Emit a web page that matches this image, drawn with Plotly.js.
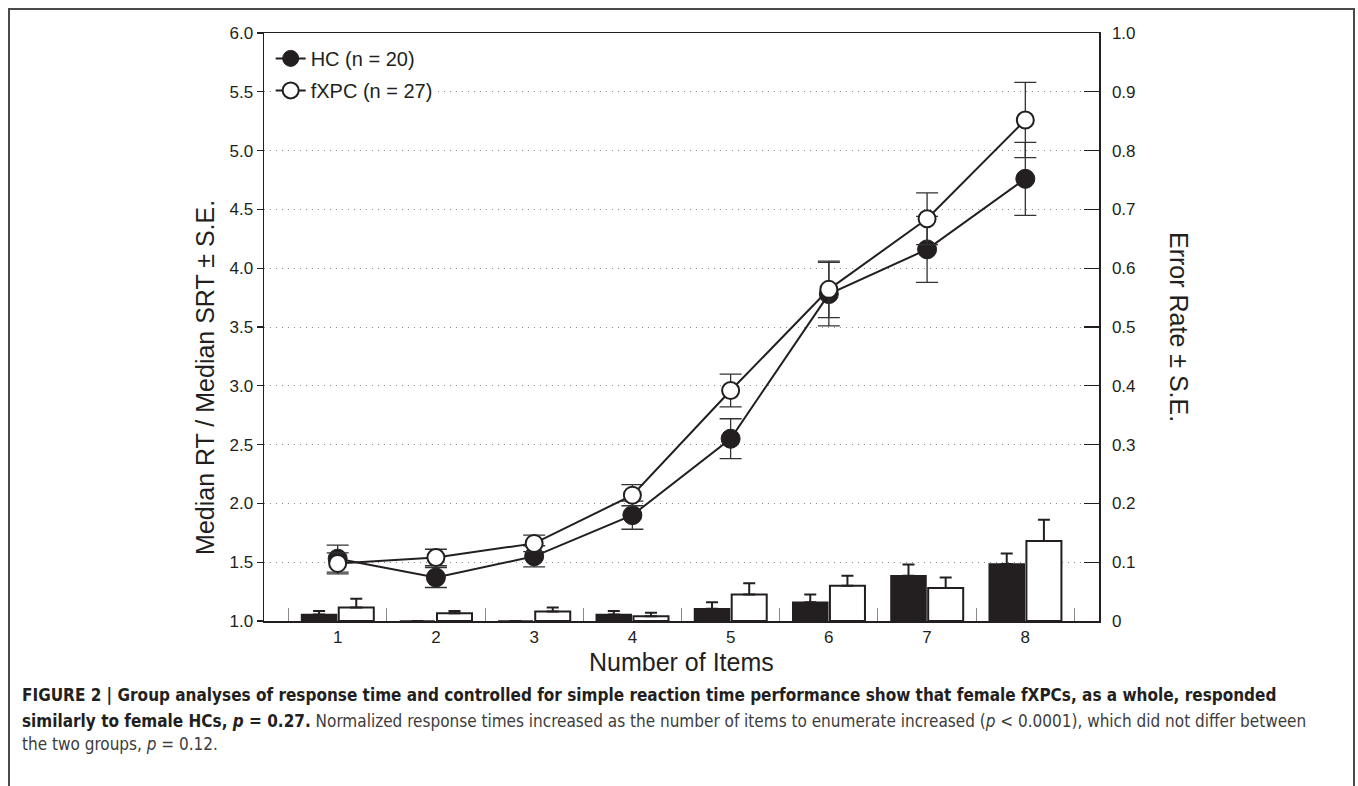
<!DOCTYPE html>
<html>
<head>
<meta charset="utf-8">
<script src="https://cdn.plot.ly/plotly-3.0.1.min.js"></script>
<style>
  html, body { margin: 0; padding: 0; background: #ffffff; }
  #chart { width: 1358px; height: 786px; }
  #frame { position: absolute; left: 8px; top: 8px; width: 1343px; height: 800px;
           border: 2px solid #4a4a4a; pointer-events: none; }
</style>
</head>
<body>
<div id="chart"></div>
<div id="frame"></div>
<script>
// ---- data ----
const items = [1, 2, 3, 4, 5, 6, 7, 8];
const hcLabel = 'HC (n = 20)';
const fxLabel = 'fXPC (n = 27)';

// Median RT / Median SRT (left axis) with S.E.
const hcRT   = [1.53, 1.37, 1.55, 1.90, 2.55, 3.78, 4.16, 4.76];
const hcRTse = [0.115, 0.085, 0.09, 0.12, 0.17, 0.27, 0.28, 0.31];
const fxRT   = [1.49, 1.54, 1.66, 2.07, 2.96, 3.82, 4.42, 5.26];
const fxRTse = [0.09, 0.07, 0.07, 0.09, 0.14, 0.24, 0.22, 0.32];

// Error rate (right axis) with S.E.
const hcErr   = [0.011, 0, 0, 0.011, 0.021, 0.032, 0.077, 0.097];
const hcErrSe = [0.006, 0, 0, 0.006, 0.011, 0.013, 0.019, 0.018];
const fxErr   = [0.023, 0.013, 0.016, 0.008, 0.045, 0.060, 0.056, 0.136];
const fxErrSe = [0.015, 0.004, 0.007, 0.006, 0.019, 0.017, 0.018, 0.036];

// tick labels
const leftTicks  = [1.0, 1.5, 2.0, 2.5, 3.0, 3.5, 4.0, 4.5, 5.0, 5.5, 6.0];
const rightTicks = [0, 0.1, 0.2, 0.3, 0.4, 0.5, 0.6, 0.7, 0.8, 0.9, 1.0];
const rightTickText = ['0', '0.1', '0.2', '0.3', '0.4', '0.5', '0.6', '0.7', '0.8', '0.9', '1.0'];
const betweenTicks = [0.5, 1.5, 2.5, 3.5, 4.5, 5.5, 6.5, 7.5, 8.5];

const xTitle = 'Number of Items';
const yTitle = 'Median RT / Median SRT ± S.E.';
const y2Title = 'Error Rate ± S.E.';
const caption1 = '<b>FIGURE 2 | Group analyses of response time and controlled for simple reaction time performance show that female fXPCs, as a whole, responded</b>';
const caption2 = '<b>similarly to female HCs, <i>p</i> = 0.27.</b> <span style="color:#3c3c3c">Normalized response times increased as the number of items to enumerate increased (<i>p</i> &lt; 0.0001), which did not differ between</span>';
const caption3 = '<span style="color:#3c3c3c">the two groups, <i>p</i> = 0.12.</span>';

// ---- styling ----
const ink = '#231f20';
const fontFam = 'Liberation Sans, Arial, Helvetica, sans-serif';
const capFam = 'Liberation Sans Narrow, Arial Narrow, DejaVu Sans Condensed, Liberation Sans, sans-serif';
const zeros = items.map(() => 0);

const traces = [
  {
    type: 'bar', x: items, y: hcErr, yaxis: 'y2', showlegend: false,
    marker: { color: ink, line: { color: ink, width: 1.5 } },
    error_y: { type: 'data', symmetric: false, array: hcErrSe, arrayminus: zeros,
               color: ink, thickness: 2, width: 6 },
    hoverinfo: 'skip'
  },
  {
    type: 'bar', x: items, y: fxErr, yaxis: 'y2', showlegend: false,
    marker: { color: '#ffffff', line: { color: ink, width: 2 } },
    error_y: { type: 'data', symmetric: false, array: fxErrSe, arrayminus: zeros,
               color: ink, thickness: 2, width: 6 },
    hoverinfo: 'skip'
  },
  {
    type: 'scatter', mode: 'lines+markers', x: items, y: hcRT, name: hcLabel,
    legendgroup: 'hc',
    line: { color: ink, width: 2 },
    marker: { symbol: 'circle', size: 19, color: ink, line: { color: ink, width: 1 } },
    error_y: { type: 'data', array: hcRTse, color: '#333333', thickness: 1.3, width: 11 }
  },
  {
    type: 'scatter', mode: 'lines+markers', x: items, y: fxRT, name: fxLabel,
    legendgroup: 'fx',
    line: { color: ink, width: 2 },
    marker: { symbol: 'circle', size: 17, color: '#ffffff', line: { color: ink, width: 2 } },
    error_y: { type: 'data', array: fxRTse, color: '#333333', thickness: 1.3, width: 11 }
  }
];

const layout = {
  width: 1358, height: 786,
  margin: { l: 264, r: 259, t: 33, b: 165 },
  paper_bgcolor: '#ffffff', plot_bgcolor: '#ffffff',
  font: { family: fontFam, color: ink, size: 17 },
  barmode: 'group', bargap: 0.243, bargroupgap: 0.058,
  showlegend: true,
  legend: {
    x: 0.008, y: 0.99, xanchor: 'left', yanchor: 'top',
    bgcolor: '#ffffff', borderwidth: 0,
    font: { family: fontFam, size: 20, color: ink },
    traceorder: 'grouped', tracegroupgap: 3
  },
  xaxis: {
    range: [0.25, 8.75], tickvals: items, ticktext: items.map(String),
    ticks: '', showgrid: false, zeroline: false,
    showline: true, linecolor: ink, linewidth: 1.5, mirror: true,
    tickfont: { size: 17, color: ink },
    minor: { tickvals: betweenTicks, ticks: 'inside', ticklen: 13, tickwidth: 1,
             tickcolor: '#8a8a8a', showgrid: false }
  },
  yaxis: {
    range: [1, 6], tickvals: leftTicks, tickformat: '.1f',
    ticks: 'outside', ticklen: 6, tickwidth: 1.2, tickcolor: ink,
    showline: true, linecolor: ink, linewidth: 1.5,
    showgrid: true, gridcolor: '#8c8c8c', gridwidth: 1, griddash: '1px,5px',
    zeroline: false, tickfont: { size: 17, color: ink }
  },
  yaxis2: {
    overlaying: 'y', side: 'right', range: [0, 1],
    tickvals: rightTicks, ticktext: rightTickText,
    ticks: 'inside', ticklen: 15, tickwidth: 1.2, tickcolor: ink,
    ticklabelstandoff: 8,
    showline: true, linecolor: ink, linewidth: 1.5,
    showgrid: false, zeroline: false, tickfont: { size: 17, color: ink }
  },
  annotations: [
    { text: xTitle, xref: 'paper', yref: 'paper', x: 0.5, y: -0.07,
      xanchor: 'center', yanchor: 'middle', showarrow: false,
      font: { family: fontFam, size: 25, color: ink } },
    { text: yTitle, xref: 'paper', yref: 'paper', x: -0.0707, y: 0.415,
      xanchor: 'center', yanchor: 'middle', showarrow: false, textangle: -90,
      font: { family: fontFam, size: 25, color: ink } },
    { text: y2Title, xref: 'paper', yref: 'paper', x: 1.0958, y: 0.5,
      xanchor: 'center', yanchor: 'middle', showarrow: false, textangle: 90,
      font: { family: fontFam, size: 25, color: ink } },
    { text: caption1, xref: 'paper', yref: 'paper', x: -0.2922, y: -0.1259,
      xanchor: 'left', yanchor: 'middle', showarrow: false, align: 'left',
      font: { family: capFam, size: 17, color: ink } },
    { text: caption2, xref: 'paper', yref: 'paper', x: -0.2922, y: -0.1701,
      xanchor: 'left', yanchor: 'middle', showarrow: false, align: 'left',
      font: { family: capFam, size: 17, color: ink } },
    { text: caption3, xref: 'paper', yref: 'paper', x: -0.2922, y: -0.2092,
      xanchor: 'left', yanchor: 'middle', showarrow: false, align: 'left',
      font: { family: capFam, size: 17, color: ink } }
  ]
};

Plotly.newPlot('chart', traces, layout, { displayModeBar: false, staticPlot: true });
</script>
</body>
</html>
